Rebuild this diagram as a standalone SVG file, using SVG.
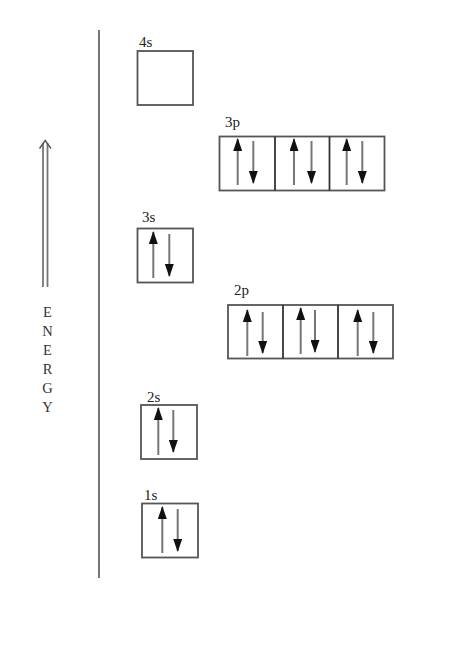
<svg xmlns="http://www.w3.org/2000/svg" width="450" height="659" viewBox="0 0 450 659">
<defs>
<style>
.box{fill:none;stroke:#555;stroke-width:1.8}
.div{stroke:#333;stroke-width:1.8}
.sp{stroke:#777;stroke-width:2}
.lbl{font-family:"Liberation Serif",serif;font-size:15px;fill:#222}
.en{font-family:"Liberation Serif",serif;font-size:14.5px;fill:#333;text-anchor:middle}
</style>
<marker id="ah" viewBox="0 0 13 9" refX="12" refY="4.5" markerWidth="13" markerHeight="9" markerUnits="userSpaceOnUse" orient="auto"><path d="M0,0 L13,4.5 L0,9 Z" fill="#111"/></marker>
</defs>
<rect width="450" height="659" fill="#fff"/>
<g id="axis">
<line x1="99" y1="30" x2="99" y2="578" stroke="#777" stroke-width="2"/>
</g>
<g id="energy">
<line x1="43" y1="143" x2="43" y2="287" stroke="#777" stroke-width="1.8"/>
<line x1="47.5" y1="143" x2="47.5" y2="287" stroke="#777" stroke-width="1.8"/>
<polyline points="39.5,148.5 45.2,140.5 51,148.5" fill="none" stroke="#555" stroke-width="1.4"/>
<text class="en" x="47.5" y="317">E</text>
<text class="en" x="47.5" y="336">N</text>
<text class="en" x="47.5" y="355">E</text>
<text class="en" x="47.5" y="374">R</text>
<text class="en" x="47.5" y="393">G</text>
<text class="en" x="47.5" y="412">Y</text>
</g>
<g id="o4s">
<text class="lbl" x="139" y="46.5">4s</text>
<rect class="box" x="137.5" y="51" width="55.5" height="54"/>
</g>
<g id="o3p">
<text class="lbl" x="225" y="126.5">3p</text>
<rect class="box" x="219.5" y="136.5" width="165" height="54"/>
<line class="div" x1="275" y1="136.5" x2="275" y2="190.5"/>
<line class="div" x1="329.5" y1="136.5" x2="329.5" y2="190.5"/>
</g>
<g id="o3s">
<text class="lbl" x="142" y="221.5">3s</text>
<rect class="box" x="137.5" y="228.5" width="55.5" height="54"/>
</g>
<g id="o2p">
<text class="lbl" x="234" y="294.5">2p</text>
<rect class="box" x="228" y="305" width="165" height="53.5"/>
<line class="div" x1="283" y1="305" x2="283" y2="358.5"/>
<line class="div" x1="338" y1="305" x2="338" y2="358.5"/>
</g>
<g id="o2s">
<text class="lbl" x="147" y="401.5">2s</text>
<rect class="box" x="141" y="405" width="56" height="54"/>
</g>
<g id="o1s">
<text class="lbl" x="144" y="499.5">1s</text>
<rect class="box" x="142" y="503.5" width="56" height="54"/>
</g>
<g id="connectors" class="spins">
<line class="sp" x1="237.7" y1="185" x2="237.7" y2="139" marker-end="url(#ah)"/>
<line class="sp" x1="253.3" y1="141" x2="253.3" y2="183" marker-end="url(#ah)"/>
<line class="sp" x1="294" y1="185" x2="294" y2="139" marker-end="url(#ah)"/>
<line class="sp" x1="311.5" y1="141" x2="311.5" y2="183" marker-end="url(#ah)"/>
<line class="sp" x1="346.7" y1="185" x2="346.7" y2="139" marker-end="url(#ah)"/>
<line class="sp" x1="362.3" y1="141" x2="362.3" y2="183" marker-end="url(#ah)"/>
<line class="sp" x1="153.3" y1="278" x2="153.3" y2="232" marker-end="url(#ah)"/>
<line class="sp" x1="169.3" y1="234" x2="169.3" y2="276" marker-end="url(#ah)"/>
<line class="sp" x1="247.3" y1="356" x2="247.3" y2="310" marker-end="url(#ah)"/>
<line class="sp" x1="262.7" y1="312" x2="262.7" y2="353" marker-end="url(#ah)"/>
<line class="sp" x1="300.7" y1="354" x2="300.7" y2="308" marker-end="url(#ah)"/>
<line class="sp" x1="315" y1="310" x2="315" y2="352" marker-end="url(#ah)"/>
<line class="sp" x1="357.7" y1="356" x2="357.7" y2="310" marker-end="url(#ah)"/>
<line class="sp" x1="373.3" y1="312" x2="373.3" y2="353" marker-end="url(#ah)"/>
<line class="sp" x1="158.3" y1="455" x2="158.3" y2="408" marker-end="url(#ah)"/>
<line class="sp" x1="173.3" y1="410" x2="173.3" y2="452" marker-end="url(#ah)"/>
<line class="sp" x1="162.3" y1="553" x2="162.3" y2="507" marker-end="url(#ah)"/>
<line class="sp" x1="177.7" y1="509" x2="177.7" y2="551" marker-end="url(#ah)"/>
</g>
</svg>
